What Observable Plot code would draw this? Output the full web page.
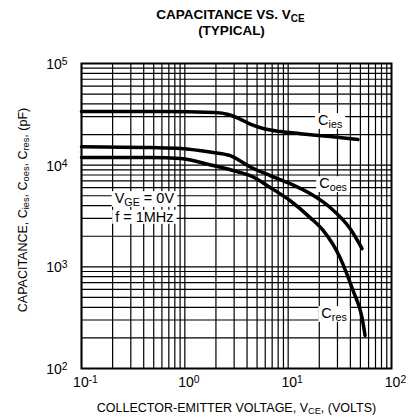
<!DOCTYPE html>
<html><head><meta charset="utf-8">
<script src="https://cdn.jsdelivr.net/npm/d3@7"></script>
<script src="https://cdn.jsdelivr.net/npm/@observablehq/plot@0.6"></script>
<style>body{margin:0;background:#fff} svg{display:block}</style>
</head><body><div id="chart"></div>
<script>
const titleLines = ["CAPACITANCE VS. V_{CE}", "(TYPICAL)"];
const xLabel = "COLLECTOR-EMITTER VOLTAGE, V_{CE}, (VOLTS)";
const yLabel = "CAPACITANCE, C_{ies}, C_{oes}, C_{res}, (pF)";
const xTickValues = [0.1, 1, 10, 100];
const xTickLabels = ["10^{-1}", "10^{0}", "10^{1}", "10^{2}"];
const yTickValues = [100, 1000, 10000, 100000];
const yTickLabels = ["10^{2}", "10^{3}", "10^{4}", "10^{5}"];

// Cies curve (VCE in volts, capacitance in pF)
const ciesV = [0.1, 0.58, 1.97, 2.63, 3.43, 4.30, 5.61, 8.37, 13.1, 25.5, 47.4];
const ciesC = [33700, 33700, 32900, 31500, 28400, 25300, 23100, 21400, 20400, 19100, 17900];
// Coes curve
const coesV = [0.1, 0.465, 0.906, 1.88, 2.75, 4.30, 6.70, 10.4, 16.3, 25.5, 39.7, 51.9];
const coesC = [15200, 14900, 14600, 13300, 12400, 9600, 7900, 6600, 5260, 3830, 2380, 1510];
// Cres curve
const cresV = [0.1, 0.465, 0.906, 1.88, 3.43, 4.30, 6.70, 10.4, 16.3, 21.8, 31.8, 42.4, 51.9, 55.5];
const cresC = [11900, 11900, 11600, 9910, 8460, 7900, 6030, 4490, 3050, 2280, 1230, 585, 317, 211];

// annotations
const annoText = ["C_{ies}", "C_{oes}", "C_{res}", "V_{GE} = 0V", "f = 1MHz"];
const annoV = [25.5, 27.2, 27.8, 0.406, 0.406];
const annoC = [27500, 6590, 348, 4700, 3080];

const series = [
  ...ciesV.map((v, i) => ({s: "Cies", v, c: ciesC[i]})),
  ...coesV.map((v, i) => ({s: "Coes", v, c: coesC[i]})),
  ...cresV.map((v, i) => ({s: "Cres", v, c: cresC[i]}))
];
const annos = annoText.map((t, i) => ({t, v: annoV[i], c: annoC[i]}));

const xGrid = d3.range(-1, 2).flatMap(k => d3.range(1, 10).map(m => m * 10 ** k));
const yGrid = d3.range(2, 5).flatMap(k => d3.range(1, 10).map(m => m * 10 ** k));

const font = "Liberation Sans, Arial, Helvetica, sans-serif";

const chart = Plot.plot({
  width: 415,
  height: 419,
  marginLeft: 81,
  marginRight: 24,
  marginTop: 63,
  marginBottom: 51,
  style: {fontFamily: font, fontSize: "13px", color: "#000", background: "#fff"},
  x: {type: "log", domain: [0.1, 100]},
  y: {type: "log", domain: [100, 100000]},
  marks: [
    Plot.ruleX(xGrid, {x: d => d, stroke: "#000", strokeWidth: 1.2}),
    Plot.ruleY(yGrid, {y: d => d, stroke: "#000", strokeWidth: 1.2}),
    Plot.frame({stroke: "#000", strokeWidth: 2}),
    Plot.line(series, {x: "v", y: "c", z: "s", stroke: "#000", strokeWidth: 3.5, curve: "monotone-x"}),
    Plot.text(annos, {x: "v", y: "c", text: "t", fontSize: 14.5, fill: "#000", ariaDescription: "annotation"}),
    Plot.axisX({ticks: xTickValues, tickFormat: d => xTickLabels[xTickValues.indexOf(d)], tickSize: 0, tickPadding: 9, dx: 4, fontSize: 14, label: null}),
    Plot.axisY({ticks: yTickValues, tickFormat: d => yTickLabels[yTickValues.indexOf(d)], tickSize: 0, tickPadding: 14, dy: 1, fontSize: 14, label: null}),
    Plot.text([titleLines[0]], {frameAnchor: "top", textAnchor: "middle", lineAnchor: "middle", dx: -6, dy: -49, fontSize: 13.5, fontWeight: "bold"}),
    Plot.text([titleLines[1]], {frameAnchor: "top", textAnchor: "middle", lineAnchor: "middle", dx: -5, dy: -33, fontSize: 13.5, fontWeight: "bold"}),
    Plot.text([xLabel], {frameAnchor: "bottom", textAnchor: "middle", lineAnchor: "middle", dx: 0, dy: 39, fontSize: 12.5}),
    Plot.text([yLabel], {frameAnchor: "left", textAnchor: "middle", lineAnchor: "middle", dx: -59, dy: -6, rotate: -90, fontSize: 12.5})
  ]
});

function richify(el) {
  const s = el.textContent;
  if (!/[_^]\{/.test(s)) return;
  while (el.firstChild) el.removeChild(el.firstChild);
  const re = /([_^])\{([^}]*)\}/g;
  let last = 0, m;
  const ns = "http://www.w3.org/2000/svg";
  const add = (txt, kind) => {
    const t = document.createElementNS(ns, "tspan");
    t.textContent = txt;
    if (kind) {
      t.setAttribute("baseline-shift", kind === "_" ? "-25%" : "40%");
      t.setAttribute("font-size", "74%");
    }
    el.appendChild(t);
  };
  while ((m = re.exec(s))) {
    if (m.index > last) add(s.slice(last, m.index));
    add(m[2], m[1]);
    last = re.lastIndex;
  }
  if (last < s.length) add(s.slice(last));
}
d3.select(chart).selectAll("text").each(function() { richify(this); });

document.getElementById("chart").appendChild(chart);

// white boxes behind the in-plot annotations (sized from the rendered text)
d3.select(chart).selectAll('g[aria-description="annotation"] text').each(function() {
  const b = this.getBBox();
  const r = document.createElementNS("http://www.w3.org/2000/svg", "rect");
  r.setAttribute("x", b.x - 3);
  r.setAttribute("y", b.y + 1);
  r.setAttribute("width", b.width + 6);
  r.setAttribute("height", b.height - 2);
  r.setAttribute("fill", "#fff");
  const tr = this.getAttribute("transform");
  if (tr) r.setAttribute("transform", tr);
  this.parentNode.insertBefore(r, this);
});
</script>
</body></html>
